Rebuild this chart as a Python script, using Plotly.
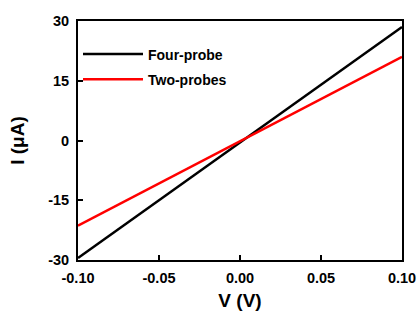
import plotly.graph_objects as go

v = [-0.10, 0.10]
i_four = [-29.5, 28.5]
i_two = [-21.4, 21.0]
xticks = [-0.10, -0.05, 0.00, 0.05, 0.10]
yticks = [-30, -15, 0, 15, 30]

font = dict(family="Liberation Sans, Arial, sans-serif", color="black", weight="bold")

fig = go.Figure()
fig.add_trace(go.Scatter(x=v, y=i_four, mode="lines", name="Four-probe", legendgroup="a",
                         line=dict(color="black", width=2.5)))
fig.add_trace(go.Scatter(x=v, y=i_two, mode="lines", name="Two-probes", legendgroup="b",
                         line=dict(color="#ff0000", width=2.5)))

axis_common = dict(showline=True, linecolor="black", linewidth=2, mirror=True,
                   ticks="inside", ticklen=5, tickwidth=2, tickcolor="black",
                   showgrid=False, zeroline=False, automargin=False)
fig.update_xaxes(range=[-0.10, 0.10], tickvals=xticks, ticktext=[f"{t:.2f}" for t in xticks],
                 tickfont=dict(size=14.5, **font), ticklabelstandoff=4,
                 title=dict(text="V (V)", font=dict(size=19, **font), standoff=8),
                 **axis_common)
fig.update_yaxes(range=[-30, 30], tickvals=yticks, ticktext=[str(t) for t in yticks],
                 tickfont=dict(size=14.5, **font), ticklabelstandoff=4,
                 title=dict(text="I (μA)", font=dict(size=19, **font), standoff=18),
                 **axis_common)

fig.update_layout(width=420, height=319, margin=dict(l=78, r=18, t=21, b=59),
                  plot_bgcolor="white", paper_bgcolor="white",
                  legend=dict(x=0.0, y=0.927, xanchor="left", yanchor="top",
                              font=dict(size=14, **font), bgcolor="rgba(0,0,0,0)",
                              tracegroupgap=4, itemwidth=60, traceorder="grouped"),
                  showlegend=True)
fig.write_html("out.html", config={"displayModeBar": False},
               post_script="document.body.style.margin='0';document.body.style.overflow='hidden';")
